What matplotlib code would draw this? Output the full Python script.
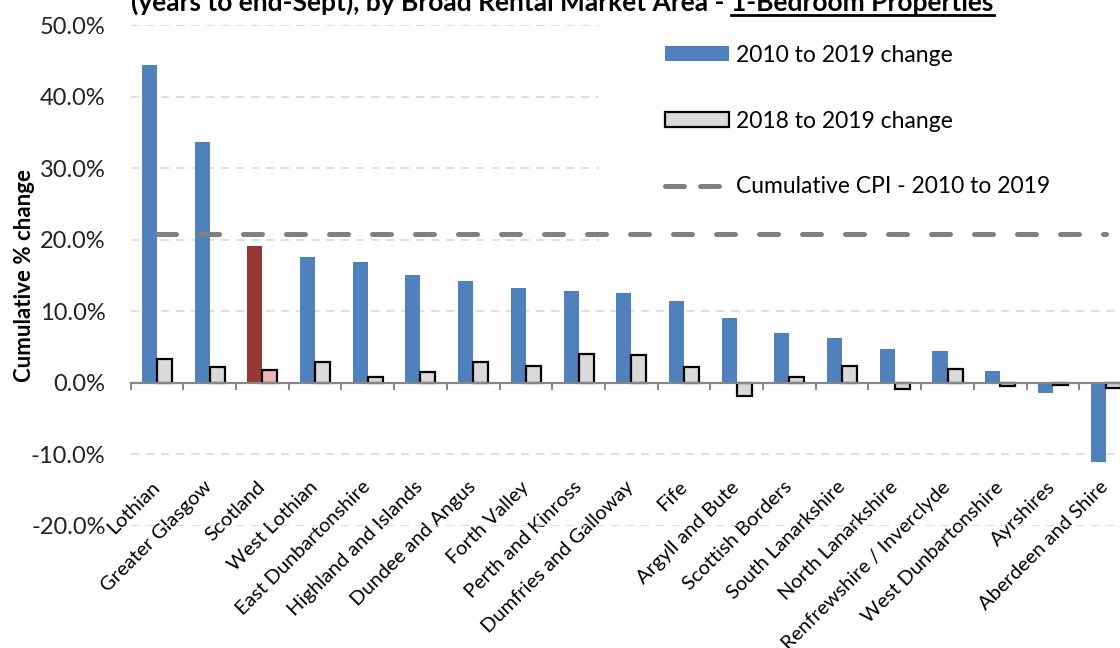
import matplotlib
matplotlib.use('Agg')
import matplotlib.pyplot as plt
from matplotlib.ticker import PercentFormatter, FixedLocator
from matplotlib.lines import Line2D
from matplotlib.patches import Patch

areas = ["Lothian", "Greater Glasgow", "Scotland", "West Lothian", "East Dunbartonshire",
         "Highland and Islands", "Dundee and Angus", "Forth Valley", "Perth and Kinross",
         "Dumfries and Galloway", "Fife", "Argyll and Bute", "Scottish Borders",
         "South Lanarkshire", "North Lanarkshire", "Renfrewshire / Inverclyde",
         "West Dunbartonshire", "Ayrshires", "Aberdeen and Shire"]
change_2010_2019 = [44.4, 33.7, 19.1, 17.6, 16.9, 15.0, 14.3, 13.3, 12.9, 12.6,
                    11.4, 9.0, 6.9, 6.3, 4.7, 4.5, 1.6, -1.4, -11.1]
change_2018_2019 = [3.4, 2.2, 1.8, 2.9, 0.8, 1.5, 2.9, 2.4, 4.1, 3.9,
                    2.2, -1.9, 0.8, 2.4, -0.9, 1.9, -0.5, -0.3, -0.7]
cpi_2010_2019 = 20.8

plt.rcParams['font.family'] = ['Lato', 'DejaVu Sans']
plt.rcParams['axes.unicode_minus'] = False

blue = '#4f81bd'
grey = '#d9d9d9'
fig = plt.figure(figsize=(11.2, 6.48), dpi=100)
ax = fig.add_axes([0.1166, 0.1883, 0.8941, 0.7731])

x = list(range(len(areas)))
w = 0.285
long_cols = [('#953735' if a == 'Scotland' else blue) for a in areas]
short_cols = [('#e6b9b8' if a == 'Scotland' else grey) for a in areas]
ax.bar([i - w / 2 for i in x], change_2010_2019, width=w, color=long_cols, zorder=2)
ax.bar([i + w / 2 for i in x], change_2018_2019, width=w, color=short_cols,
       edgecolor='black', linewidth=1.6, zorder=2)
ax.plot([x[0], x[-1]], [cpi_2010_2019, cpi_2010_2019], color='#808080', lw=3.6,
        dashes=(3.8, 4.8), dash_capstyle='round', zorder=6)

ax.set_xlim(-0.5, len(areas) - 0.5)
ax.set_ylim(-20, 50)
ax.set_yticks(range(-20, 51, 10))
ax.yaxis.set_major_formatter(PercentFormatter(decimals=1))
ax.grid(axis='y', color='#d9d9d9', lw=1.2, dashes=(5, 4), zorder=0)

for s in ['top', 'right', 'left']:
    ax.spines[s].set_visible(False)
ax.spines['bottom'].set_position(('data', 0))
ax.spines['bottom'].set_color('#868686')
ax.spines['bottom'].set_linewidth(1.6)
ax.spines['bottom'].set_zorder(3)

ax.set_xticks(x)
ax.set_xticklabels(areas, fontsize=14.5)
ax.xaxis.set_minor_locator(FixedLocator([i - 0.5 for i in range(len(areas) + 1)]))
ax.tick_params(axis='x', which='major', length=0, pad=73)
ax.tick_params(axis='x', which='minor', length=5, width=1.4, color='#868686')
for lab in ax.get_xticklabels():
    lab.set_rotation(45)
    lab.set_ha('right')
    lab.set_va('center')
    lab.set_rotation_mode('anchor')
ax.tick_params(axis='y', length=0, pad=18, labelsize=17, labelcolor='#222222')

ax.set_ylabel('Cumulative % change', fontsize=16, fontweight='bold')
ax.yaxis.set_label_coords(-0.095, 0.5)

handles = [Patch(facecolor=blue),
           Patch(facecolor=grey, edgecolor='black', linewidth=1.6),
           Line2D([0], [0], color='#808080', lw=3.6, dashes=(3.8, 3.2), dash_capstyle='round')]
labels = ['2010 to 2019 change', '2018 to 2019 change', 'Cumulative CPI - 2010 to 2019']
leg = ax.legend(handles, labels, loc='upper left', bbox_to_anchor=(0.456, 1.116),
                fontsize=16.5, frameon=True, fancybox=False, edgecolor='none',
                facecolor='white', framealpha=1, handlelength=2.8, handleheight=0.6,
                handletextpad=0.3, labelspacing=1.95, borderpad=2.9)
leg.set_zorder(5)

# title (cut at the top) with the underlined part
y_title = 1 - 11 / 648
t1 = fig.text(131 / 1120, y_title, '(years to end-Sept), by Broad Rental Market Area -',
              fontsize=19, fontweight='bold', va='baseline', ha='left')
renderer = fig.canvas.get_renderer()
bb1 = t1.get_window_extent(renderer)
x2 = (bb1.x1 + 7) / fig.bbox.width
t2 = fig.text(x2, y_title, '1-Bedroom Properties', fontsize=19, fontweight='bold',
              va='baseline', ha='left')
bb2 = t2.get_window_extent(renderer)
yl = 1 - 15 / 648
fig.add_artist(Line2D([bb2.x0 / fig.bbox.width, bb2.x1 / fig.bbox.width], [yl, yl],
                      color='black', lw=2, transform=fig.transFigure))

fig.savefig('out.png', dpi=100)
